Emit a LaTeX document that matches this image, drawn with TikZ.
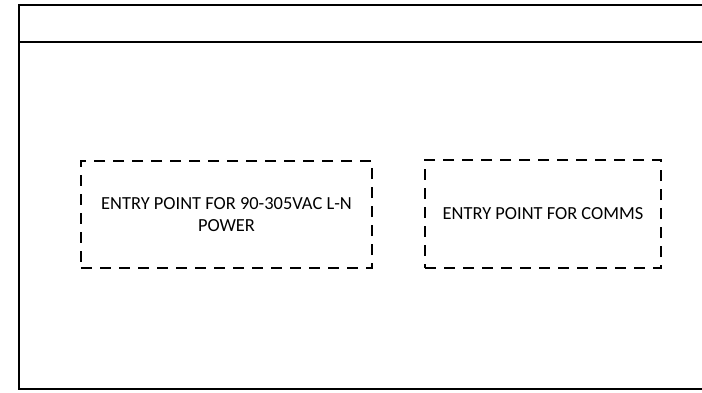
\documentclass[tikz,border=0pt]{standalone}
\usepackage{fontspec}
\setmainfont{Carlito}
\usetikzlibrary{positioning}
\begin{document}
\begin{tikzpicture}[x=1bp,y=-1bp,node distance=53bp,
   entry/.style={draw,dash pattern=on 11bp off 8bp,line width=1.5bp,
      align=center,inner sep=0pt,font=\fontsize{18.5}{22}\selectfont}]
   \useasboundingbox (0,0) rectangle (702,392);
   % enclosure, runs off the right side
   \draw[line width=1.6bp] (19,5) rectangle (712,389);
   \draw[line width=1.8bp] (19,42) -- (712,42);
   \node [entry,minimum width=291bp,minimum height=107bp] (power) at (226.5,214.5)
      {ENTRY POINT FOR 90-305VAC L-N\\POWER};
   \node [entry,minimum width=236bp,minimum height=108bp] (comms) at (543,214)
      {ENTRY POINT FOR COMMS};
\end{tikzpicture}
\end{document}
